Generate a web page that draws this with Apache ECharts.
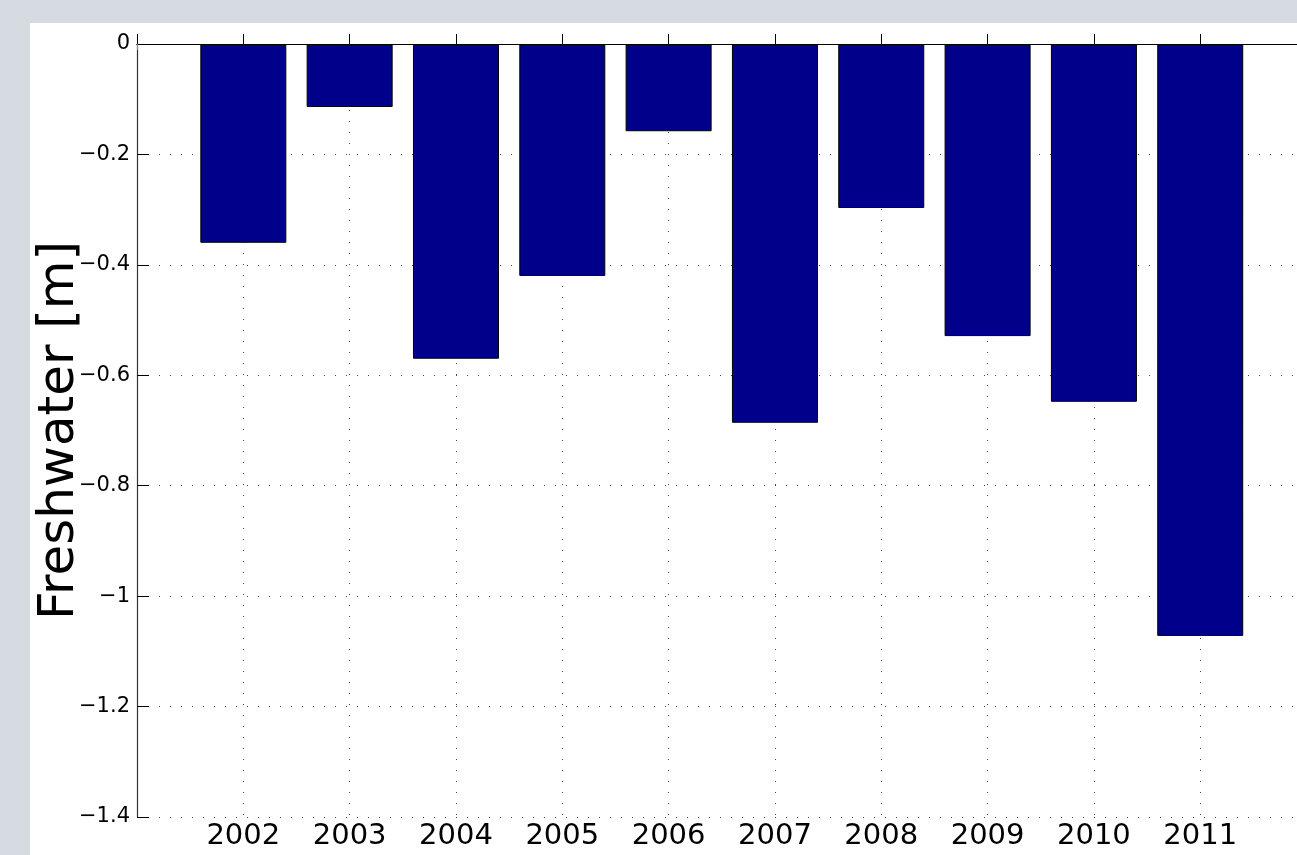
<!DOCTYPE html>
<html>
<head>
<meta charset="utf-8">
<title>Freshwater</title>
<script src="https://cdn.jsdelivr.net/npm/echarts@6/dist/echarts.min.js"></script>
<style>
  html, body { margin: 0; padding: 0; background: #d6dae1; }
  #chart { width: 1297px; height: 855px; }
</style>
</head>
<body>
<div id="chart"></div>
<script>
// data
var years = [2002, 2003, 2004, 2005, 2006, 2007, 2008, 2009, 2010, 2011];
var freshwater = [-0.36, -0.114, -0.57, -0.42, -0.158, -0.686, -0.297, -0.529, -0.648, -1.072];
var yTicks = [0, -0.2, -0.4, -0.6, -0.8, -1, -1.2, -1.4];

var font = 'DejaVu Sans';
var dotted = { type: [1, 10], color: '#444', width: 1 };

// the original axis runs on past the right edge of the picture
var xMin = 2001, xMax = 2011.91;

function yLabel(v) {
  if (Math.abs(v) < 1e-9) return '0';
  return String(+v.toFixed(1)).replace('-', '\u2212');
}

var chart = echarts.init(document.getElementById('chart'));
chart.setOption({
  backgroundColor: '#d6dae1',
  animation: false,
  graphic: [{
    type: 'rect',
    z: -10,
    shape: { x: 30, y: 23, width: 1300, height: 900 },
    style: { fill: '#ffffff' }
  }],
  grid: { left: 137, top: 44, right: 0, bottom: 38 },
  xAxis: [{
    type: 'value',
    min: xMin,
    max: xMax,
    interval: 1,
    axisLine: { lineStyle: { color: '#000', width: 1.2 } },
    axisTick: { inside: true, length: 10, lineStyle: { color: '#000' } },
    axisLabel: {
      margin: 5,
      fontFamily: font,
      fontSize: 29,
      color: '#000',
      showMaxLabel: false,
      formatter: function (v) { return years.indexOf(v) >= 0 ? String(v) : ''; }
    },
    splitLine: { show: true, lineStyle: dotted }
  }, {
    type: 'value',
    position: 'top',
    min: xMin,
    max: xMax,
    interval: 1,
    axisLine: { show: true, onZero: false, lineStyle: { color: '#000', width: 1.2 } },
    axisTick: { inside: true, length: 6, lineStyle: { color: '#888' } },
    axisLabel: { show: false },
    splitLine: { show: false }
  }],
  yAxis: {
    type: 'value',
    min: -1.4,
    max: 0,
    interval: 0.2,
    name: 'Freshwater [m]',
    nameLocation: 'middle',
    nameGap: 52,
    nameMoveOverlap: false,
    nameTextStyle: { fontFamily: font, fontSize: 50, color: '#000' },
    axisLine: { show: true, lineStyle: { color: '#333', width: 1.2 } },
    axisTick: { show: true, inside: true, length: 12, lineStyle: { color: '#000' } },
    axisLabel: {
      margin: 7,
      fontFamily: font,
      fontSize: 21,
      color: '#000',
      formatter: yLabel
    },
    splitLine: { show: true, lineStyle: dotted }
  },
  series: [{
    type: 'bar',
    barWidth: 86,
    data: years.map(function (y, i) { return [y, freshwater[i]]; }),
    itemStyle: { color: '#00008b', borderColor: '#000', borderWidth: 1 }
  }]
});
</script>
</body>
</html>
